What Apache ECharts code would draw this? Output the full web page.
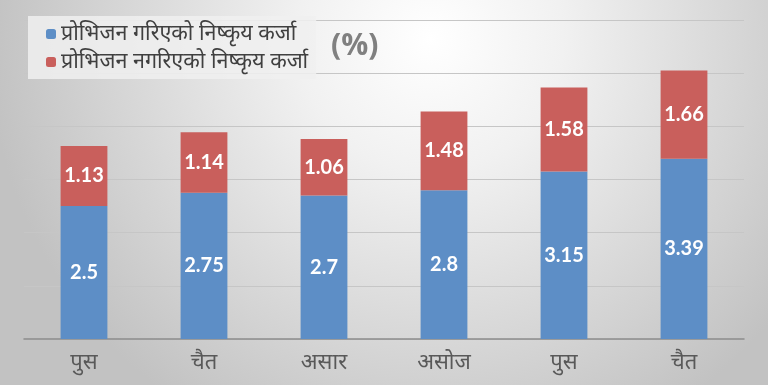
<!DOCTYPE html>
<html>
<head>
<meta charset="utf-8">
<script src="https://cdn.jsdelivr.net/npm/echarts@6/dist/echarts.min.js"></script>
<style>
html,body{margin:0;padding:0;}
#c{width:768px;height:385px;}
</style>
</head>
<body>
<div id="c"></div>
<script>
const categories = ['पुस','चैत','असार','असोज','पुस','चैत'];
const seriesNames = ['प्रोभिजन गरिएको निष्कृय कर्जा','प्रोभिजन नगरिएको निष्कृय कर्जा'];
const provisioned = [2.5, 2.75, 2.7, 2.8, 3.15, 3.39];
const notProvisioned = [1.13, 1.14, 1.06, 1.48, 1.58, 1.66];
const unitLabel = '(%)';

const chart = echarts.init(document.getElementById('c'), null, {renderer:'canvas'});
const labelStyle = {show:true, position:'inside', color:'#ffffff', fontSize:20, fontWeight:'bold', fontFamily:'Lato, "Open Sans", sans-serif'};
chart.setOption({
  animation:false,
  backgroundColor:{type:'radial', x:0.56, y:0.1, r:1.15, colorStops:[{offset:0,color:'#ffffff'},{offset:0.3,color:'#f1f1f1'},{offset:1,color:'#c2c2c2'}]},
  title:{text:unitLabel, left:326, top:26, textStyle:{fontSize:30, fontWeight:'bold', color:'#808080', fontFamily:'"Open Sans", sans-serif'}},
  legend:{
    orient:'vertical', left:28, top:16, itemWidth:10, itemHeight:10, itemGap:6,
    padding:[7,8,6,18], backgroundColor:'rgba(240,240,240,0.85)',
    textStyle:{fontSize:21.5, color:'#404040', fontFamily:'"Noto Sans", sans-serif'},
    data:seriesNames
  },
  grid:{left:24, right:24, top:20, bottom:46, containLabel:false},
  xAxis:{
    type:'category', data:categories,
    axisLine:{lineStyle:{color:'#8c8c8c', width:1.5}},
    axisTick:{show:false},
    axisLabel:{fontSize:22, color:'#595959', margin:13, fontFamily:'"Noto Sans", sans-serif'}
  },
  yAxis:{
    type:'value', min:0, max:6, interval:1,
    axisLabel:{show:false}, axisLine:{show:false}, axisTick:{show:false},
    splitLine:{lineStyle:{color:'#c6c6c6', width:1}}
  },
  series:[
    {name:seriesNames[0], type:'bar', stack:'a', data:provisioned, barWidth:'39%', itemStyle:{color:'#5d8ec6'}, label:labelStyle},
    {name:seriesNames[1], type:'bar', stack:'a', data:notProvisioned, barWidth:'39%', itemStyle:{color:'#c95f5c'}, label:labelStyle}
  ]
});
</script>
</body>
</html>
